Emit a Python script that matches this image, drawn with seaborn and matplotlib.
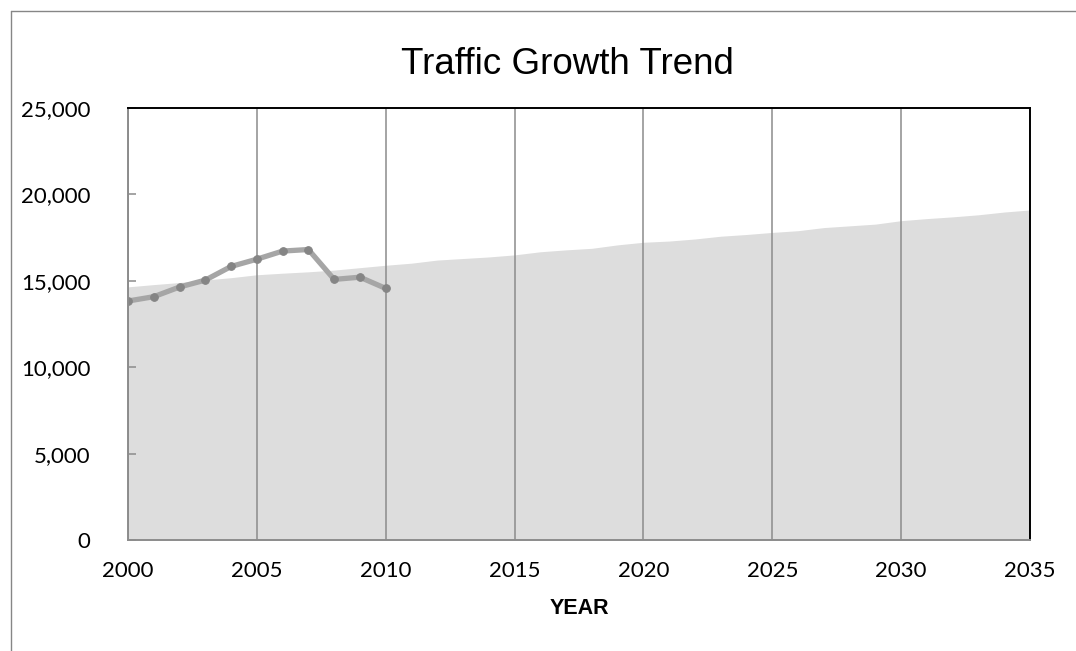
import numpy as np
import pandas as pd
import matplotlib
matplotlib.use("Agg")
import matplotlib.pyplot as plt
from matplotlib.lines import Line2D
import seaborn as sns

# observed traffic counts 2000-2010
obs_years = list(range(2000, 2011))
obs_traffic = [13830, 14080, 14640, 15040, 15830, 16250, 16720, 16810, 15080, 15210, 14560]

# projected growth trend 2000-2035 (shaded area)
trend_years = list(range(2000, 2036))
trend_traffic = [14650, 14780, 14900, 15050, 15180, 15350, 15440, 15520, 15620, 15760,
                 15900, 16020, 16200, 16290, 16380, 16500, 16680, 16790, 16880, 17080,
                 17230, 17300, 17420, 17580, 17680, 17800, 17900, 18080, 18180, 18280,
                 18480, 18600, 18700, 18820, 18980, 19100]

x_ticks = list(range(2000, 2036, 5))
y_ticks = list(range(0, 25001, 5000))

sns.set_theme(style="white")
plt.rcParams['font.family'] = ['Lato', 'DejaVu Sans']
plt.rcParams['text.color'] = 'black'
plt.rcParams['xtick.color'] = 'black'
plt.rcParams['ytick.color'] = 'black'
plt.rcParams['axes.labelcolor'] = 'black'

df_obs = pd.DataFrame({'year': obs_years, 'traffic': obs_traffic})
df_trend = pd.DataFrame({'year': trend_years, 'traffic': trend_traffic})

fig = plt.figure(figsize=(10.76, 6.51), dpi=100)
ax = fig.add_axes([128 / 1076, 111 / 651, 902 / 1076, 432 / 651])

ax.fill_between(df_trend['year'], 0, df_trend['traffic'], color='#dddddd', linewidth=0, zorder=1)

sns.lineplot(data=df_obs, x='year', y='traffic', ax=ax, color='#a6a6a6', linewidth=3.8,
             marker='o', markersize=5.5, markerfacecolor='#858585', markeredgecolor='#858585',
             zorder=3)

ax.set_xlim(2000, 2035)
ax.set_ylim(0, 25000)
ax.set_xticks(x_ticks)
ax.set_yticks(y_ticks)
ax.set_yticklabels([f'{v:,}' for v in y_ticks])
ax.xaxis.grid(True, color='#8c8c8c', linewidth=1.1, zorder=2)
ax.yaxis.grid(False)
ax.set_axisbelow(False)

ax.tick_params(axis='y', direction='in', length=6, width=1.1, color='#8c8c8c',
               labelcolor='black', pad=27, labelsize=16, left=True)
ax.tick_params(axis='x', length=0, pad=15, labelsize=16, labelcolor='black')

for side in ['left', 'bottom']:
    ax.spines[side].set_color('#8c8c8c')
    ax.spines[side].set_linewidth(1.4)
for side in ['top', 'right']:
    ax.spines[side].set_color('#000000')
    ax.spines[side].set_linewidth(1.4)
for s in ax.spines.values():
    s.set_zorder(4)

ax.set_xlabel('YEAR', fontsize=15.5, fontweight='bold', family=['Liberation Sans', 'DejaVu Sans'],
              labelpad=12, color='black')
ax.set_ylabel('')

fig.text(567 / 1076, 1 - 64 / 651, 'Traffic Growth Trend', ha='center', va='center',
         fontsize=26.5, family=['Liberation Sans', 'DejaVu Sans'], color='black')

# outer chart frame (top and left edges visible)
fig.add_artist(Line2D([11 / 1076, 1.0], [1 - 11 / 651, 1 - 11 / 651], transform=fig.transFigure,
                      color='#868686', linewidth=1.0))
fig.add_artist(Line2D([11 / 1076, 11 / 1076], [0.0, 1 - 11 / 651], transform=fig.transFigure,
                      color='#868686', linewidth=1.0))

fig.savefig('out.png', dpi=100)
